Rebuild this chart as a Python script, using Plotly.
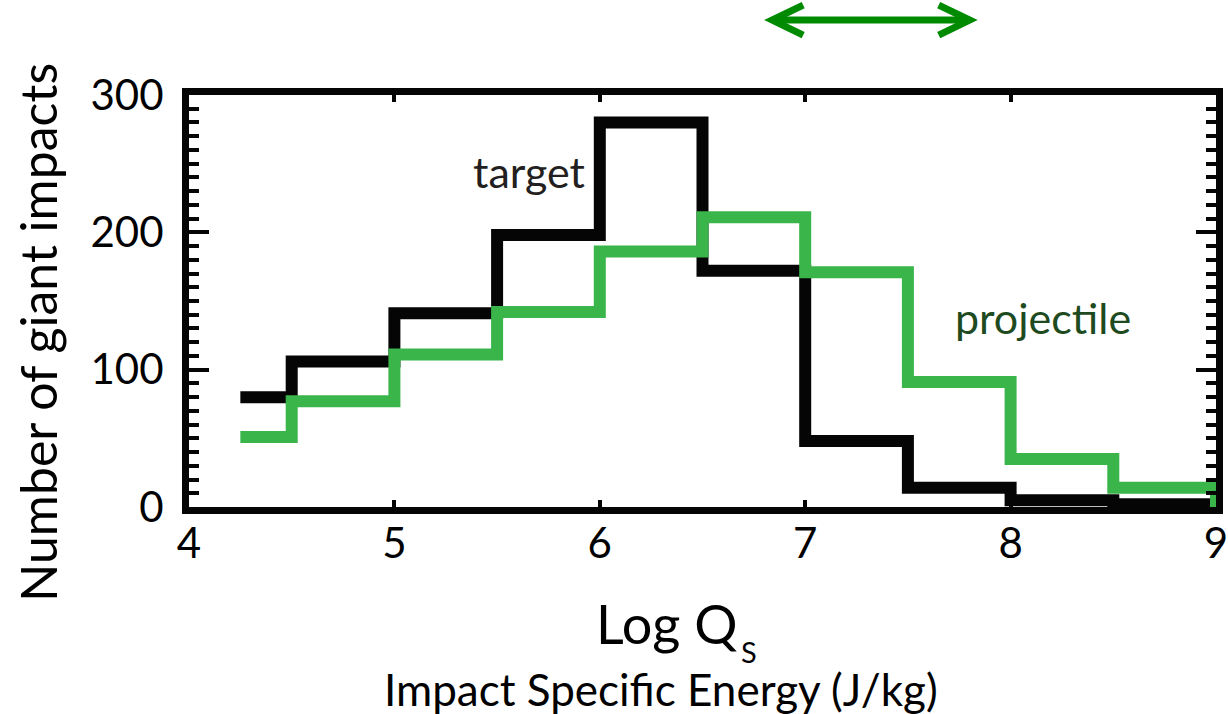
import plotly.graph_objects as go

# ---- data ----
bin_edges = [4.25, 4.5, 5.0, 5.5, 6.0, 6.5, 7.0, 7.5, 8.0, 8.5, 9.0]
target_counts = [80, 106, 141, 198, 280, 172, 48, 14, 5, 2]
projectile_counts = [51, 77, 111, 142, 186, 211, 171, 91, 35, 14]
x_ticks = [4, 5, 6, 7, 8, 9]
x_ticktext = ["4", "5", "6", "7", "8", "9"]
y_ticks = [0, 100, 200, 300]
y_ticktext = ["0", "100", "200", "300"]
arrow_span = [6.81, 7.83]   # green double arrow over the top (Log Q_S)

FONT = "Lato"
BLACK = "#050505"
GREEN = "#39b54a"
ARROW_GREEN = "#008a00"


def step_xy(edges, counts):
    xs = list(edges) + [edges[-1]]
    ys = list(counts) + [counts[-1], 0]
    return xs, ys


fig = go.Figure()
tx, ty = step_xy(bin_edges, target_counts)
px_, py_ = step_xy(bin_edges, projectile_counts)
fig.add_trace(go.Scatter(x=tx, y=ty, mode="lines", line_shape="hv",
                         line=dict(color=BLACK, width=12), showlegend=False,
                         hoverinfo="skip"))
fig.add_trace(go.Scatter(x=px_, y=py_, mode="lines", line_shape="hv",
                         line=dict(color=GREEN, width=12), showlegend=False,
                         hoverinfo="skip"))

axis_common = dict(showline=True, linewidth=7, linecolor=BLACK, mirror="ticks",
                   ticks="inside", tickcolor=BLACK, showgrid=False, zeroline=False,
                   automargin=False, ticklabeloverflow="allow",
                   tickfont=dict(family=FONT, size=42, color="#000000"))

fig.update_xaxes(range=[4, 9], tickvals=x_ticks, ticktext=x_ticktext,
                 ticklen=7, tickwidth=4, ticklabelstandoff=-6, **axis_common)
fig.update_yaxes(range=[0, 300], tickvals=y_ticks, ticktext=y_ticktext,
                 ticklen=20, tickwidth=4, ticklabelstandoff=10,
                 minor=dict(dtick=10, ticks="inside", ticklen=10, tickwidth=4,
                            tickcolor=BLACK, showgrid=False),
                 **axis_common)

L, R, T, B = 189, 11.5, 95, 206.5
W, H = 1228, 714
pw = W - L - R
ph = H - T - B


def paper_x(px):
    return (px - L) / pw


def paper_y(py):
    return (H - B - py) / ph


def A(**kw):
    base = dict(showarrow=False, xanchor="center", yanchor="middle")
    base.update(kw)
    return base


ann = [
    A(text="target", x=5.656, y=244, xref="x", yref="y",
      font=dict(family=FONT, size=43, color="#231f20")),
    A(text="projectile", x=8.16, y=138, xref="x", yref="y",
      font=dict(family=FONT, size=43, color="#1e4a20")),
    A(text="Log Q", x=paper_x(667), y=paper_y(624), xref="paper",
      yref="paper", font=dict(family=FONT, size=54, color="#000000")),
    A(text="S", x=paper_x(749), y=paper_y(652), xref="paper",
      yref="paper", font=dict(family=FONT, size=29, color="#000000")),
    A(text="Impact Specific Energy (J/kg)", x=paper_x(661), y=paper_y(690),
      xref="paper", yref="paper", font=dict(family=FONT, size=44, color="#000000")),
    A(text="Number of giant impacts", x=paper_x(38), y=paper_y(333),
      xref="paper", yref="paper", textangle=-90,
      font=dict(family=FONT, size=50, color="#000000")),
]

ay = paper_y(20)
unit_px = pw / 5
arm_dx = 31 / unit_px
arm_dy = 15 / ph
tip_in = 6 / unit_px
a0, a1 = arrow_span
t0, t1 = a0 + tip_in, a1 - tip_in
shapes = [
    dict(type="line", xref="x", yref="paper", x0=t0 + 0.01, x1=t1 - 0.01, y0=ay, y1=ay,
         line=dict(color=ARROW_GREEN, width=7)),
    dict(type="path", xref="x", yref="paper",
         path=f"M {t0 + arm_dx},{ay + arm_dy} L {t0},{ay} L {t0 + arm_dx},{ay - arm_dy}",
         line=dict(color=ARROW_GREEN, width=7)),
    dict(type="path", xref="x", yref="paper",
         path=f"M {t1 - arm_dx},{ay + arm_dy} L {t1},{ay} L {t1 - arm_dx},{ay - arm_dy}",
         line=dict(color=ARROW_GREEN, width=7)),
]

fig.update_layout(width=W, height=H, margin=dict(l=L, r=R, t=T, b=B, autoexpand=False),
                  plot_bgcolor="white", paper_bgcolor="white",
                  annotations=ann, shapes=shapes, showlegend=False)

fig.write_html("out.html")
